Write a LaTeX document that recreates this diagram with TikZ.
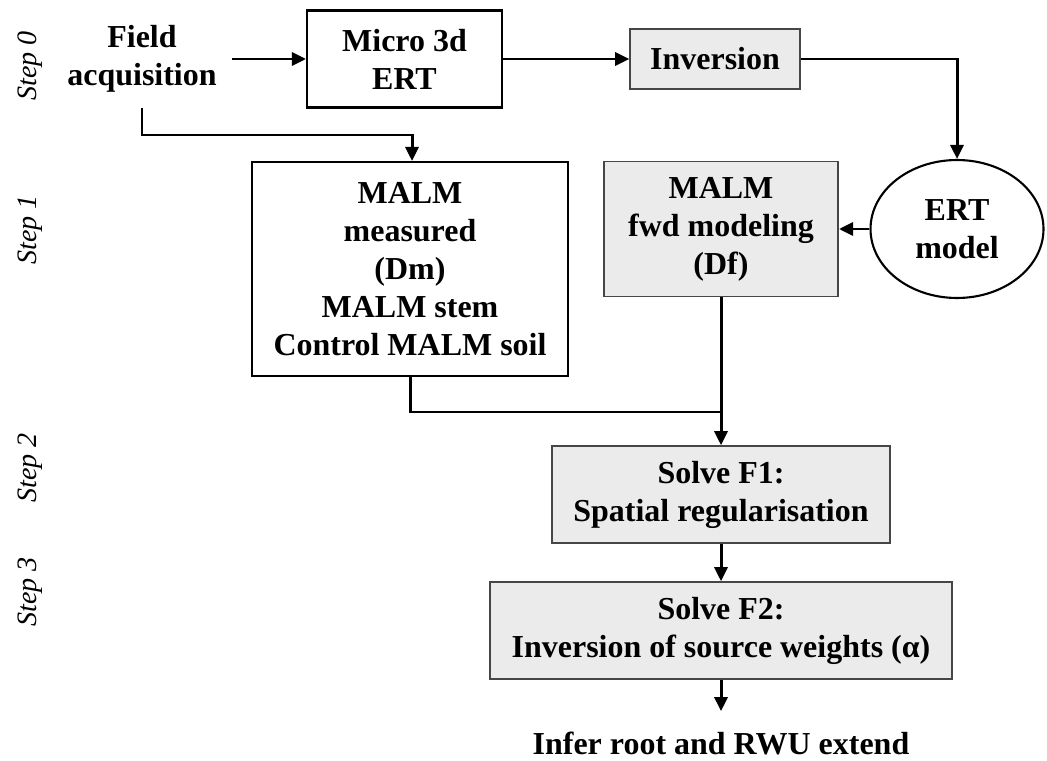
\documentclass[tikz,border=0pt]{standalone}
\usepackage{fontspec}
\setmainfont{Liberation Serif}
\usetikzlibrary{arrows.meta}
\usetikzlibrary{shapes.geometric}
\tikzset{>={Triangle[length=0.28cm,width=0.26cm]}}
\definecolor{boxgray}{RGB}{235,235,235}
\definecolor{edgegray}{RGB}{70,70,70}
\tikzset{
  txt/.style={font=\bfseries\fontsize{18.2}{21.6}\selectfont, align=center},
  plainbox/.style={txt, draw=black, line width=1.2pt},
  graybox/.style={txt, draw=edgegray, fill=boxgray, line width=0.9pt},
  flow/.style={line width=1.7pt},
  steplab/.style={font=\itshape\fontsize{16}{19}\selectfont, rotate=90}
}

\begin{document}
\begin{tikzpicture}[x=0.02cm,y=-0.02cm]
  \useasboundingbox (0,0) rectangle (1047,760);
    \foreach \s/\y in {0/66,1/230,2/468,3/592}{
      \node[steplab] (step\s) at (30,\y) {Step \s};
    }
    \node[txt, inner sep=0.3cm] (field) at (142,59) {Field\\acquisition};
    \node[plainbox, minimum width=3.9cm, minimum height=1.94cm] (micro) at (404.5,59) {Micro 3d\\ERT};
    \node[graybox, minimum width=3.4cm, minimum height=1.2cm] (inv) at (715,59) {Inversion};
    \node[txt, ellipse, draw, line width=1.2pt, inner sep=0pt, minimum width=3.46cm, minimum height=2.76cm] (ert) at (957,229) {ERT\\model};
    \node[plainbox, minimum width=6.32cm, minimum height=4.28cm] (meas) at (410,269) {MALM\\measured\\(Dm)\\MALM stem\\Control MALM soil};
    \node[graybox, minimum width=4.69cm, minimum height=2.7cm] (fwd) at (721,229) {MALM\\fwd modeling\\(Df)};
    \node[graybox, minimum width=6.76cm, minimum height=1.94cm] (f1) at (721,494.5) {Solve F1:\\Spatial regularisation};
    \node[graybox, minimum width=9.24cm, minimum height=1.94cm] (f2) at (721,630.5) {Solve F2:\\Inversion of source weights (α)};
    \node[txt, inner sep=0.4cm] (infer) at (721,743) {Infer root and RWU extend};

    \coordinate (fbend) at (412,135);
    \coordinate (mjoin) at (721,412);
    \draw[flow,->] (field) -- (micro);
    \draw[flow,->] (field.south) |- (fbend) -- (fbend |- meas.north);
    \draw[flow,->] (micro) -- (inv);
    \draw[flow,->] (inv.east) -| (ert.north);
    \draw[flow,->] (ert.west) -- (fwd.east);
    \draw[flow] (meas.south) |- (mjoin);
    \draw[flow,->] (fwd.south) -- (f1.north);
    \draw[flow,->] (f1) -- (f2);
    \draw[flow,->] (f2) -- (infer);
  \end{tikzpicture}
\end{document}
